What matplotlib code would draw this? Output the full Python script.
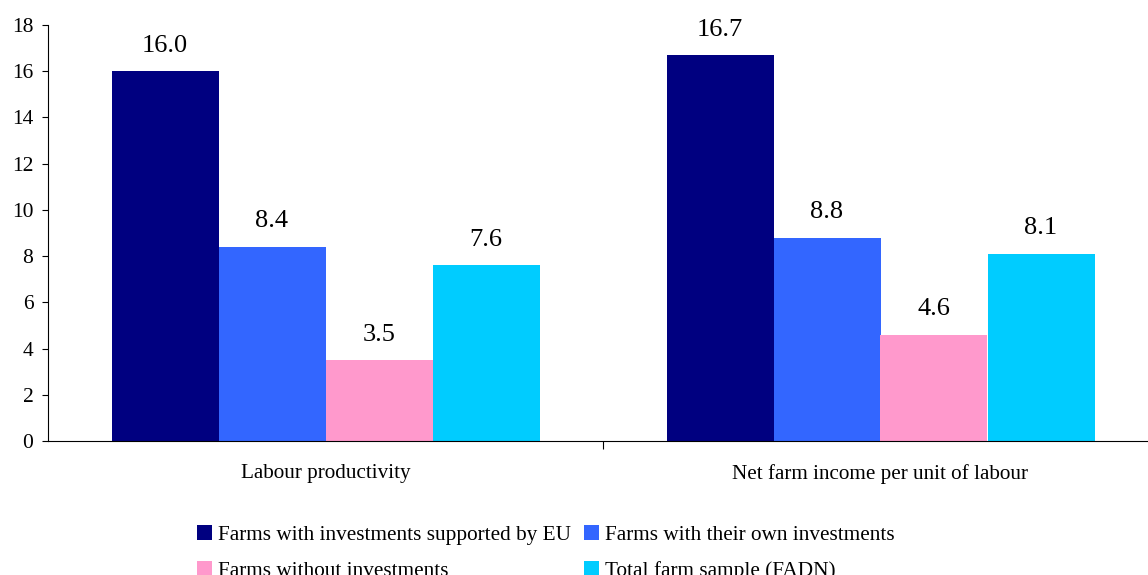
import numpy as np
import matplotlib.pyplot as plt
from matplotlib.patches import Patch

plt.rcParams['font.family'] = ['Liberation Serif', 'DejaVu Serif']

# Dane wskaźników dla grup gospodarstw
categories = ['Labour productivity', 'Net farm income per unit of labour']
series_names = ['Farms with investments supported by EU',
                'Farms with their own investments',
                'Farms without investments',
                'Total farm sample (FADN)']
eu_supported = [16.0, 16.7]
own_invest = [8.4, 8.8]
no_invest = [3.5, 4.6]
total_sample = [7.6, 8.1]
colors = ['#000080', '#3366FF', '#FF99CC', '#00CCFF']

series = [eu_supported, own_invest, no_invest, total_sample]

fig = plt.figure(figsize=(11.48, 5.75), dpi=100)
ax = fig.add_axes([48 / 1148, 1 - 441 / 575, 1110 / 1148, 416 / 575])

x = np.arange(len(categories))
w = 107 / 555
for k, vals in enumerate(series):
    pos = x + (k - 1.5) * w
    ax.bar(pos, vals, width=w, color=colors[k], edgecolor='none')
    for p, v in zip(pos, vals):
        ax.annotate(f'{v:.1f}', (p, v), xytext=(0, 14), textcoords='offset points',
                    ha='center', va='baseline', fontsize=19)

ax.set_xlim(-0.5, len(categories) - 0.5)
ax.set_ylim(0, 18)
ax.set_yticks(range(0, 19, 2))
ax.tick_params(axis='y', direction='out', length=4.5, labelsize=15.5, pad=6)

# separatory kategorii na osi x
ax.set_xticks([0.5])
ax.set_xticklabels([''])
ax.tick_params(axis='x', direction='out', length=6)
for xi, name in zip(x, categories):
    ax.text(xi, -1.0, name, ha='center', va='top', fontsize=15.2,
            transform=ax.transData)

for s in ['top', 'right']:
    ax.spines[s].set_visible(False)

# legenda wierszami: kolejność pod wypełnianie kolumnami
order = [0, 2, 1, 3]
handles = [Patch(facecolor=colors[i], edgecolor='none') for i in order]
labels = [series_names[i] for i in order]
fig.legend(handles, labels, loc='upper left', bbox_to_anchor=(178 / 1148, 1 - 506 / 575),
           ncol=2, frameon=False, fontsize=15.3, handlelength=0.7, handleheight=0.7,
           handletextpad=0.3, columnspacing=0.6, labelspacing=0.75)

fig.savefig('out.png', dpi=100)
